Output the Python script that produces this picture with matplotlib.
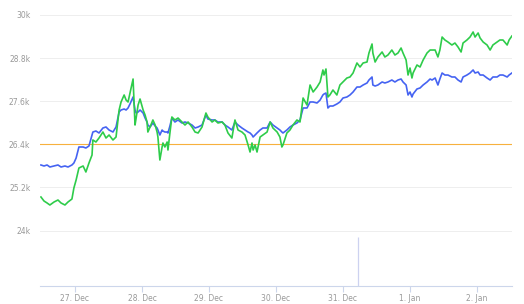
import matplotlib
matplotlib.use("Agg")
import matplotlib.pyplot as plt

# hours since 27 Dec 00:00
hours = [-12.2, -11.1, -10.0, -9.0, -7.5, -6.1, -5.0, -3.6, -2.5, -1.1, -0.4, 0.4, 1.4, 2.9, 3.9, 5.0,
         6.1, 6.4, 7.5, 8.6, 10.0, 11.1, 12.2, 13.6, 14.7, 15.8, 16.5, 17.6, 18.3, 19.0, 19.7, 20.8,
         21.5, 21.9, 22.6, 23.3, 24.4, 25.1, 25.8, 26.1, 26.9, 27.9, 28.7, 29.4, 29.7, 30.4, 31.2, 31.5,
         32.2, 33.0, 33.3, 34.0, 34.7, 35.8, 36.9, 38.3, 39.4, 40.5, 41.9, 43.0, 44.1, 45.5, 46.9, 47.6,
         49.1, 50.1, 51.2, 52.7, 53.7, 54.8, 56.2, 57.3, 58.4, 59.8, 60.9, 62.0, 62.7, 63.4, 63.8, 64.5,
         65.2, 66.3, 67.3, 68.8, 69.9, 70.9, 72.4, 73.4, 74.1, 74.5, 75.9, 77.0, 78.1, 79.5, 80.6, 81.7,
         83.1, 84.2, 85.3, 86.7, 87.8, 88.8, 89.2, 89.9, 90.6, 91.3, 92.4, 93.8, 94.9, 96.0, 97.4, 98.5,
         99.6, 101.0, 102.1, 103.2, 104.6, 105.3, 106.4, 106.7, 107.5, 108.5, 110.0, 111.0, 112.1, 113.5,
         114.6, 115.7, 116.8, 117.5, 118.6, 119.3, 120.0, 120.7, 121.1, 122.5, 123.6, 124.7, 126.1, 127.2,
         127.9, 129.0, 130.0, 130.7, 131.5, 132.5, 133.6, 135.0, 136.1, 137.2, 138.3, 139.0, 140.4, 141.5,
         142.6, 143.3, 144.4, 145.1, 146.2, 147.6, 148.7, 149.7, 151.2, 152.2, 153.3, 154.8, 155.5, 156.5]

blue = [25824, 25796, 25824, 25768, 25796, 25824, 25768, 25796, 25768, 25824, 25879, 26018, 26325, 26325, 26297, 26353,
        26659, 26742, 26770, 26715, 26854, 26882, 26798, 26742, 26882, 27299, 27355, 27383, 27355, 27411, 27522, 27717,
        27355, 27271, 27299, 27355, 27271, 27132, 27021, 26937, 26882, 26993, 26910, 26854, 26798, 26659, 26798, 26770,
        26742, 26742, 26715, 26910, 27132, 27021, 27077, 26993, 27021, 26993, 26937, 26854, 26882, 26937, 27216, 27104,
        27077, 27077, 27021, 27021, 26937, 26882, 26798, 27021, 26937, 26854, 26798, 26742, 26715, 26659, 26603, 26659,
        26715, 26798, 26854, 26854, 27021, 26937, 26854, 26798, 26742, 26715, 26798, 26882, 26937, 26993, 27077, 27411,
        27411, 27578, 27578, 27550, 27633, 27773, 27800, 27828, 27411, 27466, 27466, 27522, 27578, 27689, 27717, 27773,
        27856, 27995, 27995, 28051, 28107, 28190, 28274, 28051, 28023, 28051, 28135, 28107, 28135, 28190,
        28135, 28190, 28218, 28135, 28051, 27773, 27856, 27717, 27800, 27940, 27968, 28051, 28135, 28218,
        28190, 28246, 28051, 28218, 28385, 28329, 28329, 28274, 28274, 28190, 28135, 28274, 28329, 28385,
        28469, 28385, 28413, 28329, 28329, 28246, 28190, 28274, 28274, 28329, 28329, 28274, 28329, 28385]

green = [24933, 24821, 24766, 24710, 24794, 24849, 24766, 24710, 24794, 24877, 25183, 25406, 25740, 25796, 25629, 25879,
         26102, 26520, 26464, 26575, 26742, 26575, 26659, 26520, 26603, 27355, 27578, 27773, 27633, 27578, 27828, 28218,
         26937, 27132, 27494, 27661, 27355, 27216, 27021, 26742, 26882, 27077, 26937, 26742, 26603, 25963, 26325, 26436,
         26325, 26464, 26241, 26715, 27160, 27077, 27132, 27021, 26937, 27021, 26882, 26742, 26715, 26882, 27271, 27160,
         27021, 27077, 26993, 27021, 26937, 26715, 26575, 27077, 26798, 26742, 26659, 26381, 26185, 26436, 26241, 26381,
         26185, 26603, 26659, 26742, 27021, 26854, 26742, 26603, 26325, 26381, 26715, 26798, 26937, 27077, 27021, 27689,
         27494, 28051, 27856, 27995, 28135, 28469, 28329, 28497, 27717, 27773, 27912, 27773, 28051, 28135, 28246, 28274,
         28385, 28664, 28552, 28664, 28691, 28942, 29193, 28942, 28691, 28831, 28970, 28831, 28886, 29025,
         28886, 28942, 29081, 28942, 28747, 28329, 28524, 28246, 28385, 28608, 28552, 28747, 28942, 29025,
         29025, 29025, 28831, 29025, 29387, 29304, 29248, 29165, 29220, 29109, 28970, 29220, 29304, 29387,
         29527, 29387, 29499, 29360, 29248, 29165, 29025, 29165, 29248, 29304, 29304, 29165, 29304, 29415]

y_ticks = [24000, 25200, 26400, 27600, 28800, 30000]
y_labels = ["24k", "25.2k", "26.4k", "27.6k", "28.8k", "30k"]
x_ticks = [0, 24, 48, 72, 96, 120, 144]
x_labels = ["27. Dec", "28. Dec", "29. Dec", "30. Dec", "31. Dec", "1. Jan", "2. Jan"]
plot_line_value = 26400
marker_hour = 101.4
marker_value = 23820

W, H = 524, 304
fig = plt.figure(figsize=(W / 100, H / 100), dpi=100)
left, right, top, bottom = 40, 512, 10, 286
ax = fig.add_axes([left / W, 1 - bottom / H, (right - left) / W, (bottom - top) / H])

px_per_hour = 67 / 24
x0 = -(75 - left) / px_per_hour
x1 = x0 + (right - left) / px_per_hour
val_per_px = 1200 / 43.1
ymax = 30000 + (15 - top) * val_per_px
ymin = 30000 - (bottom - 15) * val_per_px
ax.set_xlim(x0, x1)
ax.set_ylim(ymin, ymax)

for s in ["top", "right", "left"]:
    ax.spines[s].set_visible(False)
ax.spines["bottom"].set_color("#ccd6eb")
ax.spines["bottom"].set_linewidth(0.8)

for yt in y_ticks:
    ax.axhline(yt, color="#eeeeee", lw=0.7, zorder=0)

ax.axhline(plot_line_value, color="#f7b13d", lw=0.8, zorder=1)
ax.vlines(marker_hour, ymin, marker_value, color="#cdd2f0", lw=0.9, zorder=1)

ax.plot(hours, blue, color="#4563f2", lw=1.2, zorder=3)
ax.plot(hours, green, color="#2ecc4a", lw=1.2, zorder=4)

ax.set_yticks(y_ticks)
ax.set_yticklabels(y_labels, color="#999999", fontsize=5.5)
ax.tick_params(axis="y", length=0, pad=7)
ax.set_xticks(x_ticks)
ax.set_xticklabels(x_labels, color="#999999", fontsize=5.5)
ax.tick_params(axis="x", length=4, width=0.8, color="#ccd6eb", pad=2)

fig.savefig("out.png", dpi=100, facecolor="white")
